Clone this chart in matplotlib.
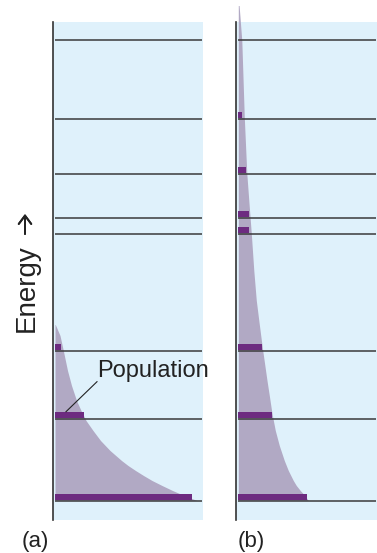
import matplotlib
matplotlib.use('Agg')
import matplotlib.pyplot as plt

plt.rcParams['font.family'] = ['Liberation Sans', 'DejaVu Sans']

# energy of each level (arbitrary units, ground = 0)
levels = [0, 82, 150, 267, 283, 327, 382, 461]

# population of each level, (a) low and (b) high temperature
pop_a = [137, 29, 6, 0, 0, 0, 0, 0]
pop_b = [69, 34, 24, 11, 11, 8, 4, 0]

# Boltzmann envelope: energy -> population
env_a_E = [0, 5, 10, 15, 20, 25, 30, 35, 40, 50, 60, 70, 80, 90, 100, 115, 130, 150, 165, 176]
env_a_w = [142, 129, 117.5, 107, 97, 88.5, 80.5, 73, 66.5, 55, 45.5, 38, 31, 26, 21.5, 16.5, 12.5, 8.3, 5, 0.3]
env_b_E = [0, 5, 10, 15, 20, 30, 40, 55, 70, 87, 105, 120, 153, 180, 200, 230, 267, 300, 327, 383, 420, 460, 495]
env_b_w = [70, 66.5, 62, 58, 55, 50, 46, 41, 37, 33.7, 31, 28.7, 24, 20.5, 18, 15.5, 13, 10.5, 8.5, 6, 4.8, 3.5, 0.8]

panel_labels = ['(a)', '(b)']

BLUE = '#dff1fb'
ENV = '#b1a9c4'
BAR = '#6d2b80'
LINE = '#3a3a3a'
TXT = '#222222'

W, H = 377, 553
fig = plt.figure(figsize=(W / 100, H / 100), dpi=100)


def panel(left_px, right_px, pops, env_E, env_w, x0, label, label_px):
    ax = fig.add_axes([left_px / W, (H - 520) / H, (right_px - left_px) / W, 498 / H])
    ax.set_xlim(0, right_px - left_px)
    ax.set_ylim(-19.5, 478.5)
    ax.set_facecolor(BLUE)
    for s in ['top', 'right', 'bottom']:
        ax.spines[s].set_visible(False)
    ax.spines['left'].set_color('#333333')
    ax.spines['left'].set_linewidth(1.2)
    ax.set_xticks([])
    ax.set_yticks([])

    # envelope
    ax.fill_betweenx(env_E + [env_E[-1]], x0, [x0 + w for w in env_w] + [x0],
                     color=ENV, lw=0, clip_on=False, zorder=1)
    # energy levels
    ax.hlines(levels, x0, right_px - left_px - 1, color=LINE, lw=1.1, zorder=2)
    # populations
    ax.barh([e + 1 for e in levels], pops, height=5.5, left=x0, align='edge',
            color=BAR, lw=0, zorder=3)

    fig.text(label_px / W, (H - 547.5) / H, label, fontsize=16,
             ha='left', va='baseline', color=TXT)
    return ax


ax_a = panel(53.3, 203, pop_a, env_a_E, env_a_w, 1.7, panel_labels[0], 22)
ax_b = panel(235.8, 377, pop_b, env_b_E, env_b_w, 2.5, panel_labels[1], 238)

# leader for the "Population" label
ax_a.plot([97 - 53.3, 66 - 53.3], [500.5 - 381.7, 500.5 - 411.7],
          color=TXT, lw=0.8, zorder=4, clip_on=False)
ax_a.text(97 - 53.3, 500.5 - 377, 'Population', fontsize=17, ha='left',
          va='baseline', color=TXT, clip_on=False, zorder=4)

# axis title with its arrow
fig.text(27 / W, (H - 288) / H, 'Energy', fontsize=20, rotation=90,
         ha='center', va='center', color=TXT)
fig.add_artist(plt.annotate('', xy=(25, H - 214), xycoords='figure pixels',
                            xytext=(25, H - 234), textcoords='figure pixels',
                            arrowprops=dict(arrowstyle='->,head_length=0.6,head_width=0.45',
                                            color=TXT, lw=1.4, shrinkA=0, shrinkB=0)))

fig.savefig('out.png', dpi=100)
